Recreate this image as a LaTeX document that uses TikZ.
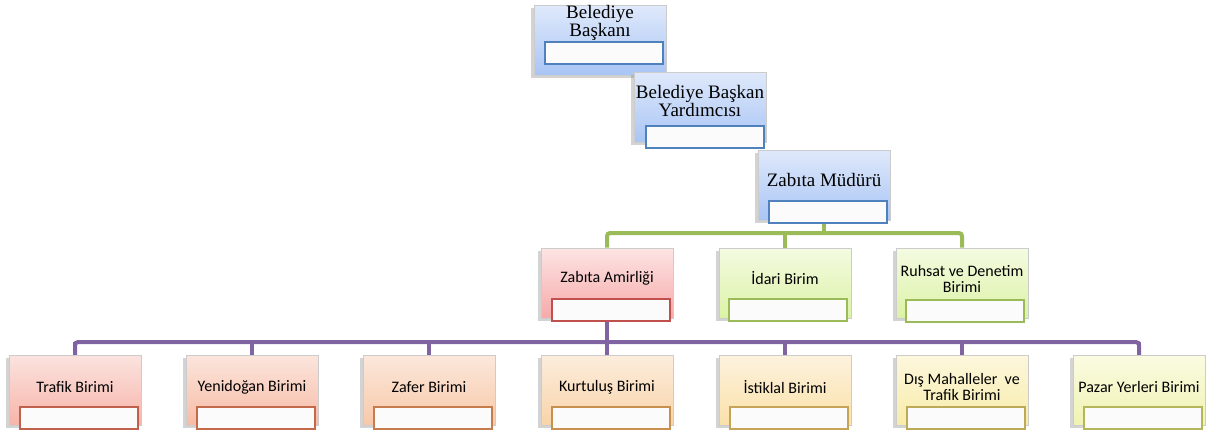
\documentclass[tikz,border=0pt]{standalone}
\usepackage{fontspec}
\newfontfamily\serifbox{Liberation Serif}
\newfontfamily\calibrish{Carlito}
\usetikzlibrary{positioning, shadows}

\definecolor{blueTop}{HTML}{DFE9FB}
\definecolor{blueBot}{HTML}{A9C5F5}
\definecolor{blueRim}{HTML}{4F81BD}
\definecolor{redTop}{HTML}{FDE4E4}
\definecolor{redBot}{HTML}{F7A9A9}
\definecolor{redRim}{HTML}{C0504D}
\definecolor{grnTop}{HTML}{F4FBE2}
\definecolor{grnBot}{HTML}{DCF2A6}
\definecolor{grnRim}{HTML}{9BBB59}
\definecolor{purLine}{HTML}{8064A2}
\definecolor{trTop}{HTML}{FBE3DF}\definecolor{trBot}{HTML}{F7B4A9}\definecolor{trRim}{HTML}{C0604D}
\definecolor{yeTop}{HTML}{FBE5DC}\definecolor{yeBot}{HTML}{F7BCA6}\definecolor{yeRim}{HTML}{C46A4A}
\definecolor{zaTop}{HTML}{FBE8DC}\definecolor{zaBot}{HTML}{F8C8A8}\definecolor{zaRim}{HTML}{C67C4C}
\definecolor{kuTop}{HTML}{FCEDDD}\definecolor{kuBot}{HTML}{F9D4A9}\definecolor{kuRim}{HTML}{C8904E}
\definecolor{isTop}{HTML}{FDF2DE}\definecolor{isBot}{HTML}{FAE1A9}\definecolor{isRim}{HTML}{C6A457}
\definecolor{diTop}{HTML}{FDF7DD}\definecolor{diBot}{HTML}{F7ECA9}\definecolor{diRim}{HTML}{BCAA58}
\definecolor{paTop}{HTML}{FBFBE2}\definecolor{paBot}{HTML}{EFF3B2}\definecolor{paRim}{HTML}{B5B55A}

\tikzset{
  unitbox/.style = {rectangle, draw=gray!40, line width=0.6pt,
    minimum width=132pt, minimum height=70pt, inner sep=0pt,
    drop shadow={shadow xshift=-3pt, shadow yshift=-3pt, opacity=0.35, fill=gray}},
  namebox/.style = {rectangle, draw=#1, line width=1.4pt, fill=white!97!gray,
    minimum width=118pt, minimum height=22pt, inner sep=0pt},
  toptext/.style = {font=\serifbox\fontsize{19}{17}\selectfont, align=center, inner sep=0pt},
  lowtext/.style = {font=\calibrish\fontsize{16}{16.5}\selectfont, align=center, inner sep=0pt},
  greenline/.style = {draw=grnRim, line width=4pt, rounded corners=3pt},
  purpleline/.style = {draw=purLine, line width=4pt, rounded corners=3pt}
}

\begin{document}
\begin{tikzpicture}[x=1pt, y=-1pt]
  \useasboundingbox (0,0) rectangle (1208,432);

  % top chain
  \node[unitbox, top color=blueTop, bottom color=blueBot] (bb) at (600,40) {};
  \node[namebox=blueRim] (bbn) at (604,53) {};
  \node[toptext] (bbt) at (600,23) {Belediye\\Başkanı};

  \node[unitbox, top color=blueTop, bottom color=blueBot] (by) at (700,107) {};
  \node[namebox=blueRim] (byn) at (705,137) {};
  \node[toptext] (byt) at (700,101) {Belediye Başkan\\Yardımcısı};

  \node[unitbox, top color=blueTop, bottom color=blueBot] (zm) at (824,185) {};
  \node[namebox=blueRim] (zmn) at (828,212) {};
  \node[toptext] (zmt) at (824,180) {Zabıta Müdürü};

  % middle row
  \coordinate (gbus) at (0,233);
  \node[unitbox, top color=redTop, bottom color=redBot] (za) at (607,283) {};
  \node[namebox=redRim] (zan) at (611,310) {};
  \node[lowtext] (zat) at (607,278) {Zabıta Amirliği};

  \node[unitbox, top color=grnTop, bottom color=grnBot] (ib) at (785,283) {};
  \node[namebox=grnRim] (ibn) at (788,310) {};
  \node[lowtext] (ibt) at (785,278) {İdari Birim};

  \node[unitbox, top color=grnTop, bottom color=grnBot] (rd) at (962,283) {};
  \node[namebox=grnRim] (rdn) at (965,311) {};
  \node[lowtext] (rdt) at (962,279) {Ruhsat ve Denetim\\Birimi};

  \draw[greenline] (zmn.south -| zm) -- (zm |- gbus);
  \draw[greenline] (za.north) |- (rd |- gbus) -- (rd.north);
  \draw[greenline] (ib |- gbus) -- (ib.north);

  % bottom row
  \coordinate (pbus) at (0,342);
  \foreach \n/\x/\t/\c in {tb/75/{Trafik Birimi}/tr, yb/252/{Yenidoğan Birimi}/ye,
      fb/429/{Zafer Birimi}/za, kb/607/{Kurtuluş Birimi}/ku, sb/785/{İstiklal Birimi}/is,
      db/962/{Dış Mahalleler\ \ ve\\Trafik Birimi}/di, pb/1139/{Pazar Yerleri Birimi}/pa} {
    \node[unitbox, top color=\c Top, bottom color=\c Bot] (\n) at (\x,390) {};
    \node[namebox=\c Rim] (\n n) at (\x+4,418) {};
    \node[lowtext] (\n t) at (\x,387) {\t};
    \draw[purpleline] (\n |- pbus) -- (\n.north);
  }
  \draw[purpleline] (tb.north) |- (pb |- pbus) -- (pb.north);
  \draw[purpleline] (zan.south -| za) -- (za |- pbus);
\end{tikzpicture}
\end{document}
